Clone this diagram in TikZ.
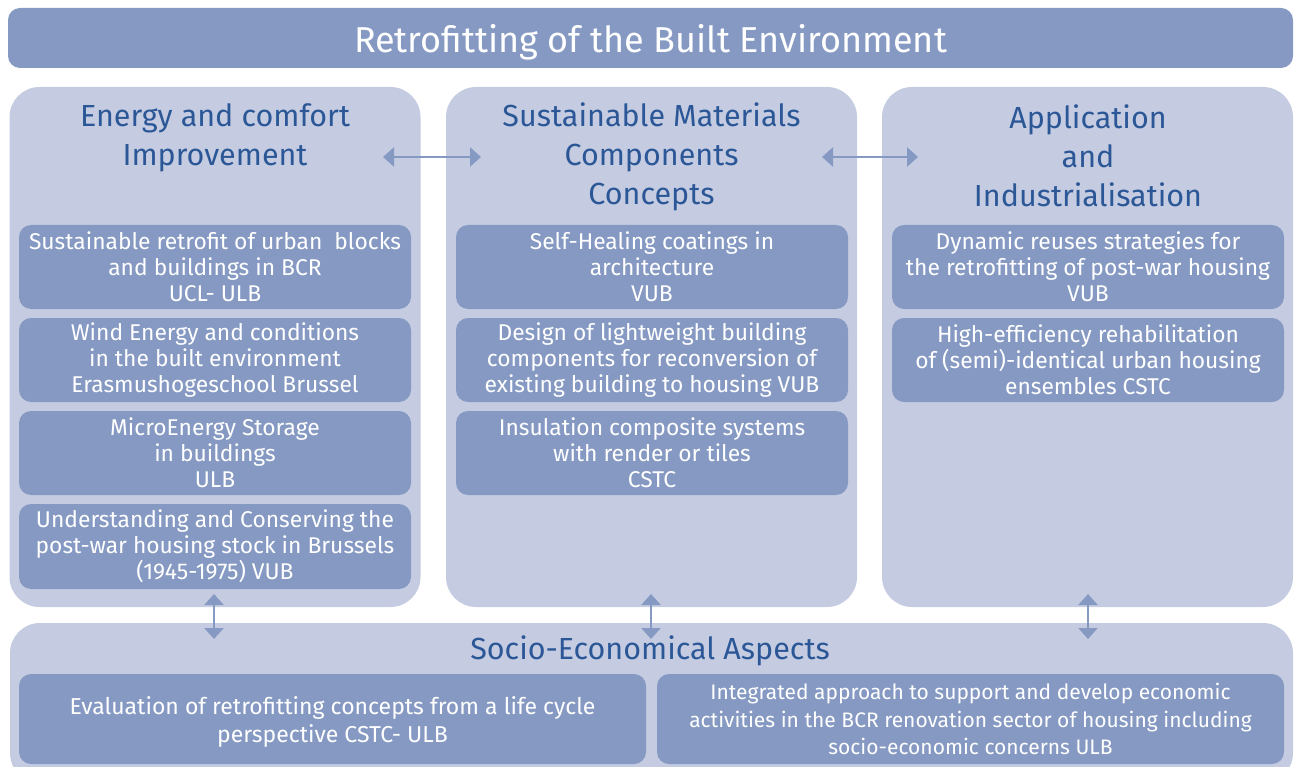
\documentclass[tikz,border=0pt]{standalone}
\usepackage{fontspec}
\setmainfont{Fira Sans}
\usetikzlibrary{arrows.meta}
\definecolor{dark}{RGB}{133,153,195}
\definecolor{light}{RGB}{197,204,226}
\definecolor{head}{RGB}{43,87,151}
\begin{document}
\begin{tikzpicture}[x=1pt,y=-1pt,
  titlebar/.style={fill=dark,rounded corners=12pt,minimum width=1285pt,minimum height=60pt,inner sep=0pt,text=white,text height=30pt,text depth=0pt,font=\fontsize{36}{40}\selectfont},
  panel/.style={fill=light,rounded corners=30pt,minimum width=411pt,minimum height=520pt,inner sep=0pt},
  item/.style={fill=dark,rounded corners=12pt,minimum width=392pt,minimum height=84pt,inner sep=0pt,text=white,align=center,font=\fontsize{22.8}{26}\selectfont},
  heading/.style={text=head,align=center,font=\fontsize{30.5}{39}\selectfont,inner sep=0pt},
  biarrow/.style={draw=dark,line width=2.5pt,{Triangle[length=11pt,width=19pt]}-{Triangle[length=11pt,width=19pt]}}]
\useasboundingbox (0,0) rectangle (1298,767);
% title
\node[titlebar] (title) at (650.5,38) {Retrofitting of the Built Environment};
% panels
\node[panel] (p1) at (215,347) {};
\node[panel] (p2) at (651.5,347) {};
\node[panel] (p3) at (1087.5,347) {};
\node[panel,minimum width=1283pt,minimum height=160pt] (p4) at (651.5,703) {};
% headings
\node[heading] (h1) at (215,138) {Energy and comfort\\Improvement};
\node[heading] (h2) at (651.5,157) {Sustainable Materials\\Components\\Concepts};
\node[heading] (h3) at (1088,156) {Application\\and\\Industrialisation};
\node[heading] (h4) at (650,651) {Socio-Economical Aspects};
% column 1 items
\node[item] (a1) at (215,267) {Sustainable retrofit of urban\ \ blocks\\and buildings in BCR\\UCL- ULB};
\node[item] (a2) at (215,360) {Wind Energy and conditions\\in the built environment\\Erasmushogeschool Brussel};
\node[item] (a3) at (215,453) {MicroEnergy Storage\\in buildings\\ULB};
\node[item,minimum height=85pt] (a4) at (215,546.5) {Understanding and Conserving the\\post-war housing stock in Brussels\\(1945-1975) VUB};
% column 2 items
\node[item] (b1) at (652,267) {Self-Healing coatings in\\architecture\\VUB};
\node[item] (b2) at (652,360) {Design of lightweight building\\components for reconversion of\\existing building to housing VUB};
\node[item] (b3) at (652,453) {Insulation composite systems\\with render or tiles\\CSTC};
% column 3 items
\node[item] (c1) at (1088,267) {Dynamic reuses strategies for\\the retrofitting of post-war housing\\VUB};
\node[item] (c2) at (1088,360) {High-efficiency rehabilitation\\of (semi)-identical urban housing\\ensembles CSTC};
% bottom items
\node[item,minimum width=627pt,minimum height=90pt,font=\fontsize{23}{28}\selectfont] (d1) at (332.5,719) {\rule{0pt}{24pt}Evaluation of retrofitting concepts from a life cycle\\perspective CSTC- ULB};
\node[item,minimum width=627pt,minimum height=90pt,font=\fontsize{21}{27.5}\selectfont] (d2) at (970.5,719) {Integrated approach to support and develop economic\\activities in the BCR renovation sector of housing including\\socio-economic concerns ULB};
% arrow end points
\coordinate (e1) at (383,157);
\coordinate (e2) at (481,157);
\coordinate (e3) at (822,157);
\coordinate (e4) at (918,157);
\coordinate (v1a) at (214,594);
\coordinate (v1b) at (214,639);
\coordinate (v2a) at (651,594);
\coordinate (v2b) at (651,639);
\coordinate (v3a) at (1088,594);
\coordinate (v3b) at (1088,639);
\draw[biarrow] (e1) -- (e2);
\draw[biarrow] (e3) -- (e4);
\draw[biarrow] (v1a) -- (v1b);
\draw[biarrow] (v2a) -- (v2b);
\draw[biarrow] (v3a) -- (v3b);
\end{tikzpicture}
\end{document}
